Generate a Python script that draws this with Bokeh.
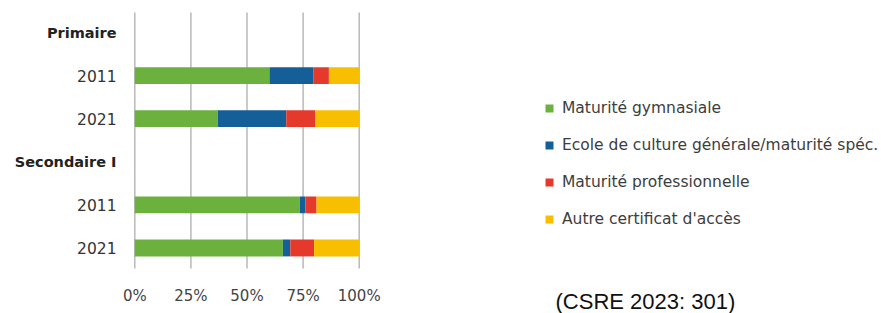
from bokeh.plotting import figure
from bokeh.models import ColumnDataSource, Range1d
from bokeh.core.properties import value
from bokeh.embed import file_html
from bokeh.resources import INLINE

# ---- data ----
groups = ["Primaire", "Secondaire I"]
years = ["2011", "2021"]
series = ["Maturité gymnasiale", "Ecole de culture générale/maturité spéc.",
          "Maturité professionnelle", "Autre certificat d'accès"]
gymnasiale = [60.0, 37.0, 73.5, 66.0]
ecg = [19.5, 30.5, 2.5, 3.3]
professionnelle = [7.0, 13.0, 5.0, 10.6]
autre = [13.5, 19.5, 19.0, 20.1]
x_ticks = [0, 25, 50, 75, 100]
x_tick_labels = ["0%", "25%", "50%", "75%", "100%"]
source_note = "(CSRE 2023: 301)"

colors = ["#6cb13e", "#145f98", "#e5392c", "#f8bf00"]
FONT = "DejaVu Sans"

# row layout: a header row for each group, then one row per year
row_labels, header_rows, bar_rows = [], [], []
for g in groups:
    header_rows.append(len(row_labels))
    row_labels.append(g)
    for yv in years:
        bar_rows.append(len(row_labels))
        row_labels.append(yv)

# ---- canvas geometry (pixels) ----
W, H = 881, 313
PX_X = 224.4 / 100.0      # pixels per percent
X_ZERO = 134.3            # pixel of 0 %
ROW = 43.1                # pixels per row
ROW0 = 32.0               # pixel of first row centre

def dx(px):   # pixel -> data x
    return (px - X_ZERO) / PX_X

def dy(py):   # pixel -> data y (rows)
    return (py - ROW0) / ROW

p = figure(width=W, height=H, output_backend="svg", toolbar_location=None,
           x_range=Range1d(dx(0), dx(W)), y_range=Range1d(dy(H), dy(0)),
           x_axis_location=None, y_axis_location=None,
           min_border=0)
p.outline_line_color = None
p.xgrid.grid_line_color = None
p.ygrid.grid_line_color = None
p.background_fill_color = "white"
p.border_fill_color = "white"

# vertical grid lines at the percentage ticks
p.segment(x0=x_ticks, x1=x_ticks, y0=[dy(12)] * len(x_ticks), y1=[dy(268)] * len(x_ticks),
          line_color="#b9b9b9", line_width=1.5)

# stacked bars
src = ColumnDataSource(dict(y=bar_rows, g=gymnasiale, e=ecg, p=professionnelle, a=autre))
p.hbar_stack(["g", "e", "p", "a"], y="y", height=0.39, color=colors,
             line_color=None, source=src, legend_label=series)

# row labels (years) and group headers
p.text(x=[dx(116)] * len(bar_rows), y=bar_rows, text=[row_labels[r] for r in bar_rows],
       text_align="right", text_baseline="middle", text_font=value(FONT),
       text_font_size="15.5px", text_color="#333333")
p.text(x=[dx(116)] * len(header_rows), y=header_rows, text=[row_labels[r] for r in header_rows],
       text_align="right", text_baseline="middle", text_font=value(FONT),
       text_font_style="bold", text_font_size="14.5px", text_color="#222222")

# x tick labels
p.text(x=x_ticks, y=[dy(295)] * len(x_ticks), text=x_tick_labels,
       text_align="center", text_baseline="middle", text_font=value(FONT),
       text_font_size="15px", text_color="#444444")

# source note
p.text(x=[dx(555)], y=[dy(301)], text=[source_note],
       text_align="left", text_baseline="middle", text_font=value("Liberation Sans"),
       text_font_size="22px", text_color="#111111")

# legend
lg = p.legend[0]
lg.location = (544, 84)
lg.border_line_color = None
lg.background_fill_alpha = 0
lg.padding = 0
lg.margin = 0
lg.glyph_width = 10
lg.glyph_height = 10
lg.label_height = 20
lg.spacing = 17
lg.label_standoff = 8
lg.label_text_font = FONT
lg.label_text_font_size = "15.5px"
lg.label_text_color = "#3d3d3d"

open("out.html", "w").write(file_html(p, INLINE))
